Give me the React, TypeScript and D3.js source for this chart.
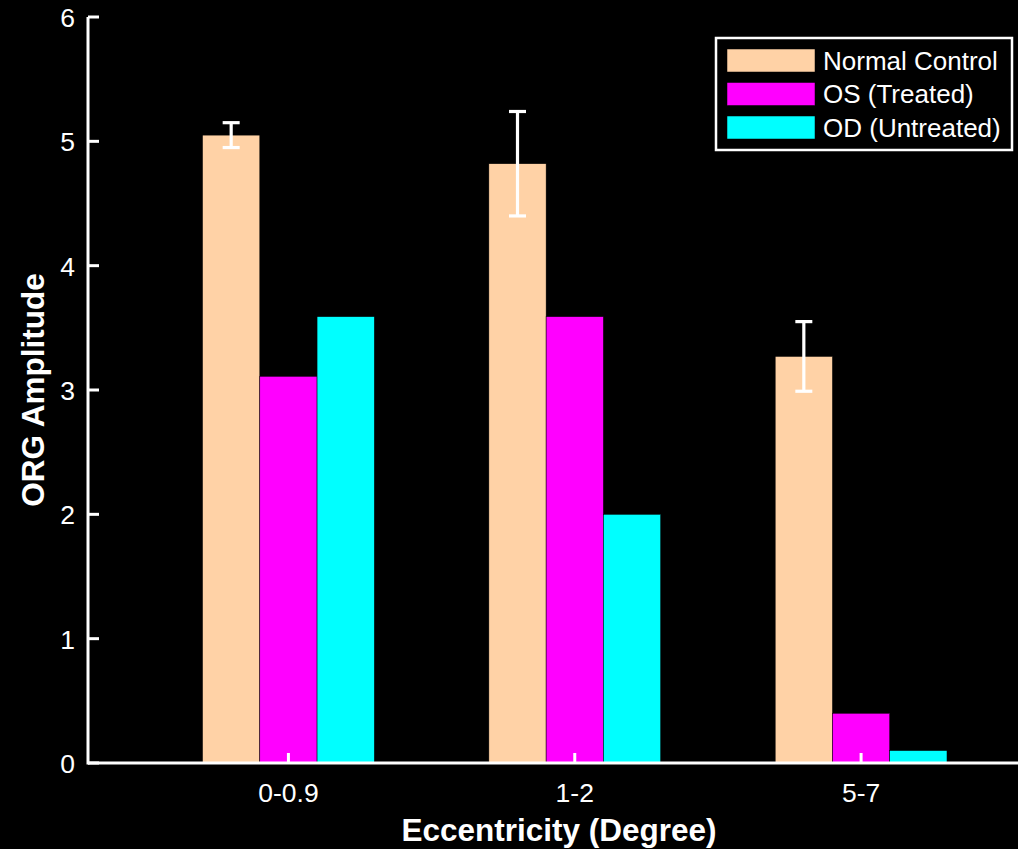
import React from "react";
import * as d3 from "d3";

const categories: string[] = ["0-0.9", "1-2", "5-7"];
const seriesNames: string[] = ["Normal Control", "OS (Treated)", "OD (Untreated)"];
const normalControl: number[] = [5.05, 4.82, 3.27];
const normalError: number[] = [0.1, 0.42, 0.28];
const osTreated: number[] = [3.11, 3.59, 0.4];
const odUntreated: number[] = [3.59, 2.0, 0.1];
const yTicks: number[] = [0, 1, 2, 3, 4, 5, 6];
const seriesColors: string[] = ["#FFD2A6", "#FF00FF", "#00FFFF"];

const W = 1018;
const H = 849;
const FONT = "'Liberation Sans', Arial, Helvetica, sans-serif";

export default function App() {
  const x = d3.scaleLinear().domain([0.3, 3.548]).range([88, 1018]);
  const y = d3.scaleLinear().domain([0, 6]).range([763, 17]);
  const barW = 0.2;
  const series = [normalControl, osTreated, odUntreated];
  const offsets = [-0.2, 0, 0.2];

  return (
    <svg
      width={W}
      height={H}
      style={{ position: "absolute", left: 0, top: 0, background: "#000" }}
    >
      <rect x={0} y={0} width={W} height={H} fill="#000" />
      {/* bars */}
      {series.map((vals, si) =>
        vals.map((v, ci) => {
          const cx = ci + 1 + offsets[si];
          const x0 = x(cx - barW / 2);
          const x1 = x(cx + barW / 2);
          return (
            <rect
              key={`b${si}-${ci}`}
              x={x0}
              y={y(v)}
              width={x1 - x0}
              height={y(0) - y(v)}
              fill={seriesColors[si]}
              stroke="#000"
              strokeWidth={0.5}
            />
          );
        })
      )}
      {/* error bars */}
      {normalControl.map((v, ci) => {
        const cx = x(ci + 1 + offsets[0]);
        const e = normalError[ci];
        return (
          <g key={`e${ci}`} stroke="#fff" strokeWidth={3.2}>
            <line x1={cx} x2={cx} y1={y(v + e)} y2={y(v - e)} />
            <line x1={cx - 8.5} x2={cx + 8.5} y1={y(v + e)} y2={y(v + e)} />
            <line x1={cx - 8.5} x2={cx + 8.5} y1={y(v - e)} y2={y(v - e)} />
          </g>
        );
      })}
      {/* axes */}
      <g stroke="#fff" strokeWidth={3}>
        <line x1={x(0.3)} x2={x(0.3)} y1={y(6)} y2={y(0) + 1.5} />
        <line x1={x(0.3)} x2={W} y1={y(0)} y2={y(0)} />
        {yTicks.map((t) => (
          <line key={`yt${t}`} x1={x(0.3)} x2={x(0.3) + 11} y1={y(t)} y2={y(t)} />
        ))}
        {categories.map((c, i) => (
          <line key={`xt${c}`} x1={x(i + 1)} x2={x(i + 1)} y1={y(0)} y2={y(0) - 10} />
        ))}
      </g>
      {/* tick labels */}
      <g fill="#fff" fontFamily={FONT} fontSize={26.5}>
        {yTicks.map((t) => (
          <text key={`yl${t}`} x={75} y={y(t) + 10} textAnchor="end">
            {t}
          </text>
        ))}
        {categories.map((c, i) => (
          <text key={`xl${c}`} x={x(i + 1)} y={802} textAnchor="middle">
            {c}
          </text>
        ))}
      </g>
      {/* axis titles */}
      <text
        x={559}
        y={841}
        textAnchor="middle"
        fill="#fff"
        fontFamily={FONT}
        fontSize={31.5}
        fontWeight="bold"
      >
        Eccentricity (Degree)
      </text>
      <text
        transform={`translate(44,390) rotate(-90)`}
        textAnchor="middle"
        fill="#fff"
        fontFamily={FONT}
        fontSize={31.5}
        fontWeight="bold"
      >
        ORG Amplitude
      </text>
      {/* legend */}
      <rect x={716} y={38} width={296} height={112} fill="#000" stroke="#fff" strokeWidth={2.5} />
      {seriesNames.map((n, i) => {
        const cy = 60.5 + i * 33.5;
        return (
          <g key={`lg${i}`}>
            <rect x={727} y={cy - 11.5} width={88} height={23} fill={seriesColors[i]} stroke="#000" strokeWidth={0.5} />
            <text x={823} y={cy + 9} fill="#fff" fontFamily={FONT} fontSize={26}>
              {n}
            </text>
          </g>
        );
      })}
    </svg>
  );
}
